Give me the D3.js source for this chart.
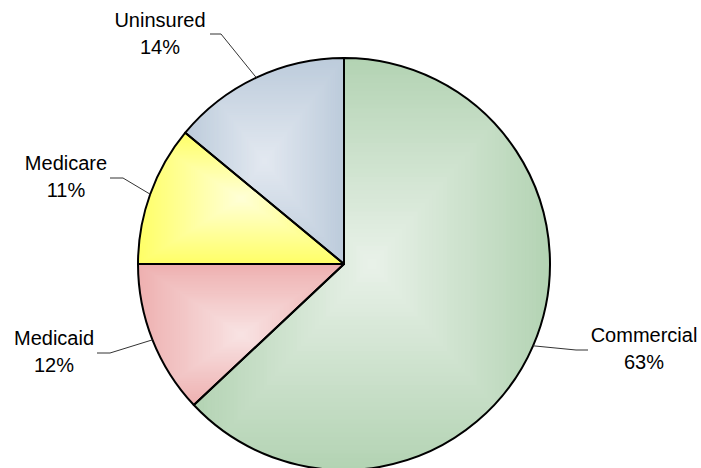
<!DOCTYPE html>
<html>
<head>
<meta charset="utf-8">
<script src="https://cdn.jsdelivr.net/npm/d3@7"></script>
<style>
  html, body { margin: 0; padding: 0; background: #fff; }
  svg { display: block; }
  text { font-family: "Liberation Sans", Arial, sans-serif; font-size: 20px; fill: #000; }
</style>
</head>
<body>
<svg id="chart" width="701" height="468"></svg>
<script>
// Share of coverage by payer type
const categories = ["Commercial", "Medicaid", "Medicare", "Uninsured"];
const shares = [63, 12, 11, 14];
const percentLabels = ["63%", "12%", "11%", "14%"];

// Slice colours: outer (edge) and inner (centre) tones of each slice's gradient
const edgeColors = ["#b3d3b3", "#eeb0b0", "#ffff66", "#bccbdb"];
const centerColors = ["#e8f1e8", "#f8e2e2", "#ffffd4", "#e2e8f0"];

// Label placement: text centre and first baseline, plus the leader's horizontal run
const labelLayout = [
  { tx: 644, ty: 342, hx1: 588, hx2: 576, hy: 350 },
  { tx: 54,  ty: 345, hx1: 97,  hx2: 110, hy: 353 },
  { tx: 66,  ty: 170, hx1: 110, hx2: 123, hy: 178 },
  { tx: 160, ty: 27,  hx1: 210, hx2: 221, hy: 34 }
];

const svg = d3.select("#chart");
const cx = 344, cy = 264, radius = 206;

const pie = d3.pie().sort(null).value(d => d.value)
  .startAngle(0).endAngle(2 * Math.PI);
const slices = pie(categories.map((c, i) => ({ name: c, value: shares[i], i })));

const arc = d3.arc().innerRadius(0).outerRadius(radius);
const defs = svg.append("defs");
const g = svg.append("g").attr("transform", `translate(${cx},${cy})`);

// Each slice gets a rectangular "from centre" gradient, built from nested
// rectangles clipped to the slice shape.
const steps = 48;
slices.forEach((s, k) => {
  const i = s.data.i;
  const d = arc(s);
  defs.append("clipPath").attr("id", "clip" + i).append("path").attr("d", d);

  const probe = g.append("path").attr("d", d).attr("fill", "none");
  const bb = probe.node().getBBox();
  probe.remove();

  const bcx = bb.x + bb.width / 2, bcy = bb.y + bb.height / 2;
  const col = d3.interpolateRgb(edgeColors[i], centerColors[i]);
  const sg = g.append("g").attr("clip-path", `url(#clip${i})`);
  for (let t = 0; t < steps; t++) {
    const f = 1 - t / steps;
    const w = bb.width * f + 2, h = bb.height * f + 2;
    sg.append("rect")
      .attr("x", bcx - w / 2).attr("y", bcy - h / 2)
      .attr("width", w).attr("height", h)
      .attr("fill", col(t / (steps - 1)));
  }
});

// Slice outlines
g.selectAll("path.slice")
  .data(slices)
  .join("path")
  .attr("class", "slice")
  .attr("d", arc)
  .attr("fill", "none")
  .attr("stroke", "#000")
  .attr("stroke-width", 2)
  .attr("stroke-linejoin", "round");

// Leader lines from each slice's mid-angle on the rim to its label
const rimArc = d3.arc().innerRadius(radius).outerRadius(radius);
slices.forEach(s => {
  const i = s.data.i;
  const L = labelLayout[i];
  const mid = (s.startAngle + s.endAngle) / 2;
  const px = cx + radius * Math.sin(mid);
  const py = cy - radius * Math.cos(mid);
  svg.append("polyline")
    .attr("points", `${L.hx1},${L.hy} ${L.hx2},${L.hy} ${px},${py}`)
    .attr("fill", "none")
    .attr("stroke", "#333")
    .attr("stroke-width", 1);

  const t = svg.append("text").attr("text-anchor", "middle");
  t.append("tspan").attr("x", L.tx).attr("y", L.ty).text(s.data.name);
  t.append("tspan").attr("x", L.tx).attr("y", L.ty + 27).text(percentLabels[i]);
});
</script>
</body>
</html>
